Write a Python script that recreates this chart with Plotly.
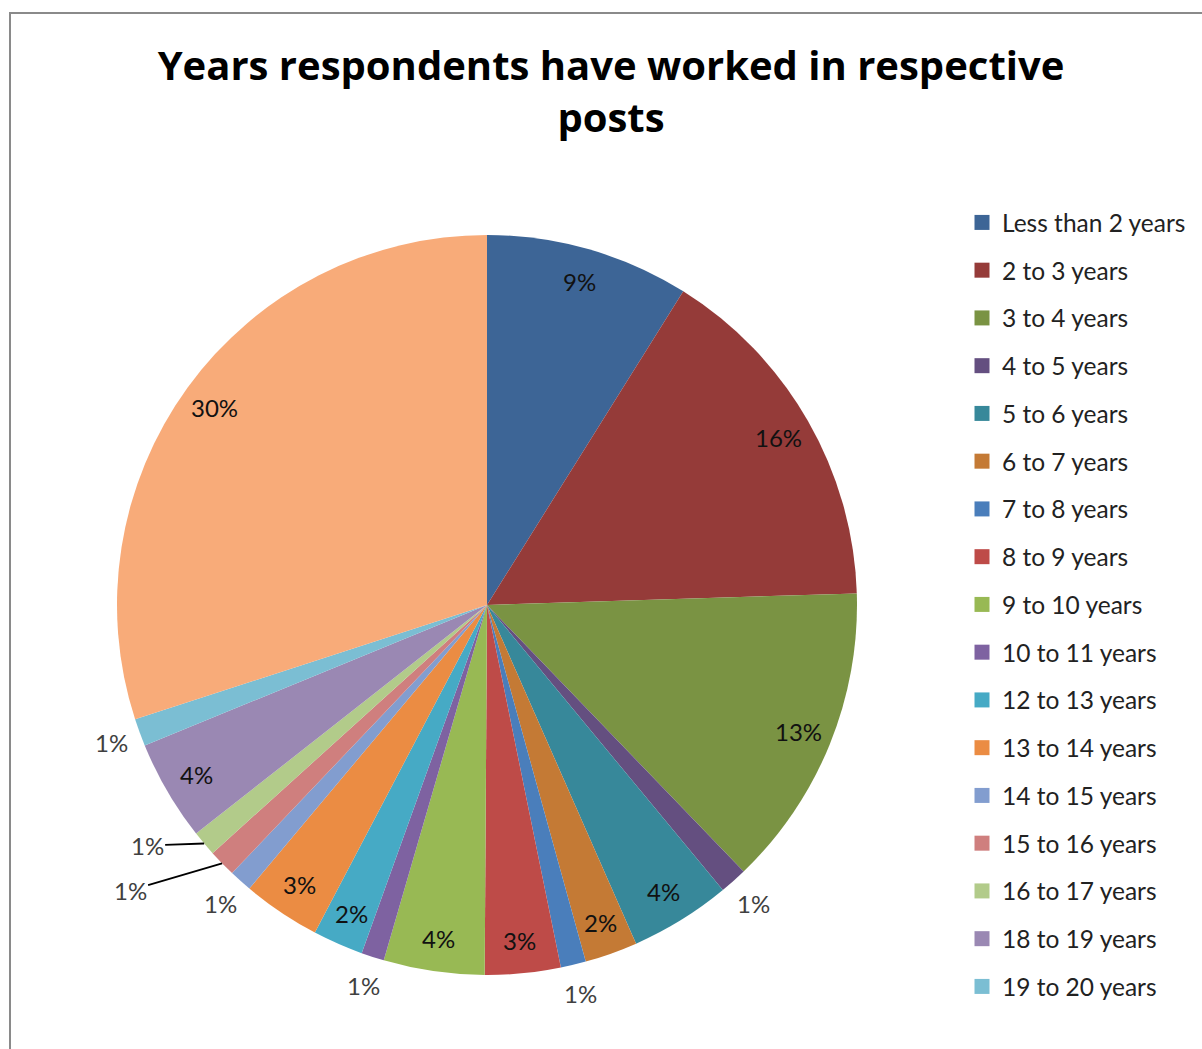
import math
import plotly.graph_objects as go

# ---------------- data ----------------
categories = [
    "Less than 2 years", "2 to 3 years", "3 to 4 years", "4 to 5 years",
    "5 to 6 years", "6 to 7 years", "7 to 8 years", "8 to 9 years",
    "9 to 10 years", "10 to 11 years", "12 to 13 years", "13 to 14 years",
    "14 to 15 years", "15 to 16 years", "16 to 17 years", "18 to 19 years",
    "19 to 20 years", "20 years and above",
]
shares = [8.9, 15.6, 13.3, 1.2, 4.4, 2.3, 1.1, 3.3, 4.4, 1.0,
          2.2, 3.4, 1.0, 1.2, 1.1, 4.4, 1.2, 30.0]
legend_count = 17  # the last category is not visible in the (cropped) legend

# ---------------- styles ----------------
colors = ["#3D6596", "#953B39", "#7A9343", "#644F80", "#37889A", "#C47A35",
          "#4A7EBB", "#BE4B48", "#98B954", "#7E62A1", "#46AAC5", "#EB8C43",
          "#829DCF", "#CF7F7E", "#B2CB8A", "#9A88B3", "#7BBED3", "#F8AB79"]
label_place = ["in", "in", "in", "out", "in", "in", "out", "in", "in", "out",
               "in", "in", "out", "lead", "lead", "in", "out", "in"]
lead_offsets = {13: (-92, 27), 14: (-57, 2)}

W, H = 1202, 1049
CX, CY, R = 487, 605, 370
FONT = "Lato"

fig = go.Figure()
fig.add_trace(go.Pie(
    labels=categories, values=shares, sort=False, direction="clockwise",
    rotation=0, marker=dict(colors=colors, line=dict(width=0)),
    textinfo="none", showlegend=False, hoverinfo="label+percent",
    domain=dict(x=[(CX - R) / W, (CX + R) / W],
                y=[1 - (CY + R) / H, 1 - (CY - R) / H]),
))

for i in range(legend_count):
    fig.add_trace(go.Scatter(
        x=[None], y=[None], mode="markers", name=categories[i],
        legendgroup=categories[i],
        marker=dict(symbol="square", size=15, color=colors[i]),
        hoverinfo="skip",
    ))

total = sum(shares)
annotations = []
cum = 0.0
for i, v in enumerate(shares):
    frac = v / total
    theta = 2 * math.pi * (cum + frac / 2)
    cum += frac
    pct = int(math.floor(100 * frac + 0.5))
    txt = f"{pct}%"
    place = label_place[i]
    if place == "in":
        k, col = 0.91, "#111111"
    elif place == "out":
        k, col = 1.08, "#404040"
    else:
        k, col = 1.0, "#404040"
    px = CX + k * R * math.sin(theta)
    py = CY - k * R * math.cos(theta)
    ann = dict(x=px / W, y=1 - py / H, xref="paper", yref="paper",
               text=txt, font=dict(family=FONT, size=24, color=col),
               xanchor="center", yanchor="middle", showarrow=False)
    if place == "lead":
        ax, ay = lead_offsets[i]
        ann.update(showarrow=True, ax=ax, ay=ay, arrowhead=0,
                   arrowwidth=1.8, arrowcolor="#000000", standoff=0)
    annotations.append(ann)

fig.update_layout(
    width=W, height=H,
    margin=dict(l=0, r=0, t=0, b=0),
    paper_bgcolor="white", plot_bgcolor="white",
    xaxis=dict(visible=False), yaxis=dict(visible=False),
    title=dict(text="Years respondents have worked in respective<br>posts",
               x=611 / W, xanchor="center", y=1 - 80 / H, yanchor="top",
               font=dict(family="Open Sans", size=40, color="#000000",
                         weight="bold")),
    legend=dict(x=962 / W, xanchor="left", y=1 - 200 / H, yanchor="top",
                traceorder="grouped", tracegroupgap=12.9,
                font=dict(family=FONT, size=24.5, color="#222222"),
                bgcolor="rgba(0,0,0,0)"),
    annotations=annotations,
    shapes=[dict(type="rect", xref="paper", yref="paper",
                 x0=10 / W, x1=1.05, y0=-0.05, y1=1 - 13 / H,
                 line=dict(color="#8A8A8A", width=2), fillcolor="rgba(0,0,0,0)",
                 layer="below")],
    showlegend=True,
)

fig.write_html("out.html", config={"displayModeBar": False},
               post_script="document.body.style.margin='0';")
